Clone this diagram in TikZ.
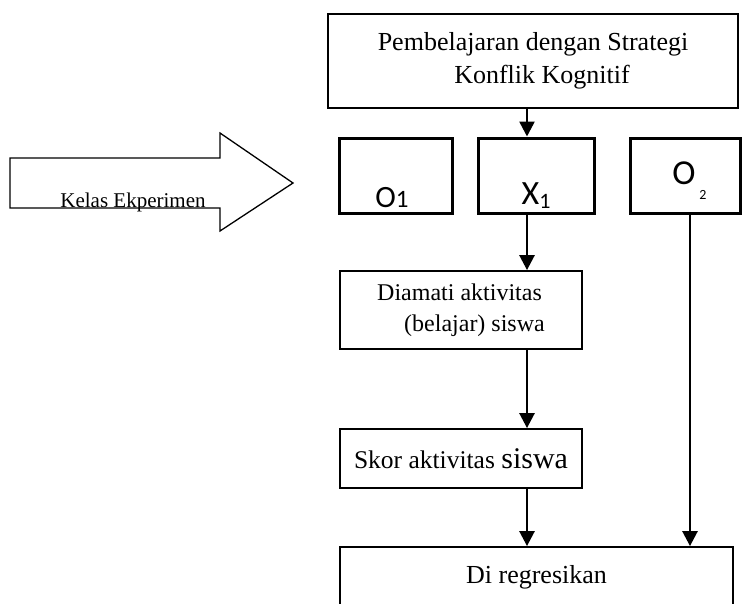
\documentclass[tikz,border=0pt]{standalone}
\usepackage{fontspec}
\setmainfont{Liberation Serif}
\newfontfamily\carl{Carlito}
\usetikzlibrary{arrows.meta}
\begin{document}
\begin{tikzpicture}[x=1pt,y=-1pt,
  box/.style={draw, line width=1.8pt, inner sep=0pt},
  obox/.style={draw, line width=3pt, inner sep=0pt, minimum height=75pt},
  arr/.style={line width=2.6pt, -{Triangle[width=15pt,length=15pt]}},
  txt/.style={font=\fontsize{26}{33}\selectfont},
  stxt/.style={font=\fontsize{24}{31}\selectfont}]
\useasboundingbox (0,0) rectangle (742,603);
\clip (0,0) rectangle (742,603);

% big arrow
\draw[line width=1.3pt, line join=miter] (10,158) -- (220,158) -- (220,133) -- (293,183) -- (220,231) -- (220,208) -- (10,208) -- cycle;
\node[anchor=base, inner sep=0pt, font=\fontsize{21}{25}\selectfont] (kelas) at (133,207) {Kelas Ekperimen};

% top box
\node[box, txt, minimum width=410pt, minimum height=94pt, align=center] (top) at (533,61)
  {Pembelajaran dengan Strategi\\\hspace{18pt}Konflik Kognitif};

% O/X boxes
\node[obox, minimum width=113pt] (o1) at (395.5,175.5) {};
\node[obox, minimum width=116pt] (x1) at (536,175.5) {};
\node[obox, minimum width=110pt] (o2) at (685,175.5) {};
\node[anchor=base, inner sep=0pt] (o1t) at (392,207) {\carl\fontsize{31}{31}\selectfont O\fontsize{25}{25}\selectfont 1};
\node[anchor=base, inner sep=0pt] (x1t) at (536,204) {\carl\fontsize{34}{34}\selectfont X\raisebox{-4pt}{\fontsize{22}{22}\selectfont 1}};
\node[anchor=base, inner sep=0pt] (o2t) at (684,184) {\carl\fontsize{35}{35}\selectfont O};
\node[anchor=base, inner sep=0pt] (o2s) at (703,199) {\carl\fontsize{14}{14}\selectfont 2};

% lower boxes
\node[box, stxt, minimum width=242pt, minimum height=78pt, align=left] (diam) at (461,310)
  {Diamati aktivitas\\\hspace{27pt}(belajar) siswa};
\node[box, minimum width=242pt, minimum height=59pt] (skor) at (461,458.5)
  {\fontsize{25.5}{30}\selectfont Skor aktivitas \fontsize{30}{30}\selectfont siswa};
\node[box, txt, minimum width=393pt, minimum height=60pt] (reg) at (536.5,577) {Di regresikan};

% connectors
\coordinate (ax) at (527,0);
\coordinate (bx) at (690,0);
\draw[arr] (top.south -| ax) -- (x1.north -| ax);
\draw[arr] (x1.south -| ax) -- (diam.north -| ax);
\draw[arr] (diam.south -| ax) -- (skor.north -| ax);
\draw[arr] (skor.south -| ax) -- (reg.north -| ax);
\draw[arr] (o2.south -| bx) -- (reg.north -| bx);
\end{tikzpicture}
\end{document}
